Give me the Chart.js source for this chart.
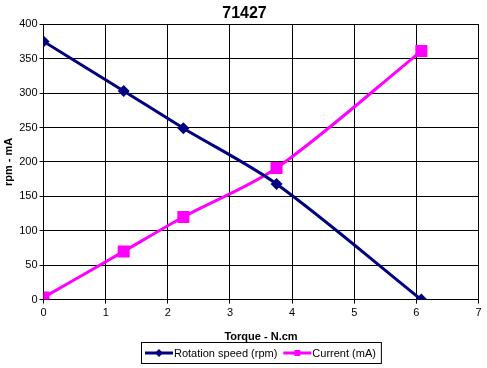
<!DOCTYPE html>
<html>
<head>
<meta charset="utf-8">
<script src="https://cdn.jsdelivr.net/npm/chart.js@4/dist/chart.umd.min.js"></script>
<style>
  html, body { margin: 0; padding: 0; background: #fff; }
  #wrap { width: 487px; height: 368px; }
</style>
</head>
<body>
<div id="wrap"><canvas id="chart"></canvas></div>
<script>
// torque values (N.cm)
const torque = [0, 1.29, 2.25, 3.75, 6.08];
const speedRpm = [375, 303, 249, 168, 0];
const currentMa = [3, 70, 120, 191, 361];
const xTicks = [0, 1, 2, 3, 4, 5, 6, 7];
const yTicks = [0, 50, 100, 150, 200, 250, 300, 350, 400];

const navy = "#000080";
const pink = "#FF00FF";
const font = "'Liberation Sans', Arial, sans-serif";

// excel style legend: line with marker, framed box under the axis title
const boxLegend = {
  id: "boxLegend",
  afterDraw(chart) {
    const ctx = chart.ctx;
    const area = chart.chartArea;
    ctx.save();
    ctx.font = "11px " + font;
    const items = chart.data.datasets.map((ds, i) => ({
      text: ds.label,
      color: ds.borderColor,
      marker: i === 0 ? "diamond" : "square",
      w: ctx.measureText(ds.label).width
    }));
    const iconW = 28;
    let total = 4;
    items.forEach(it => { total += iconW + 1 + it.w + 6; });
    const boxH = 22;
    const left = Math.round((area.left + area.right) / 2 - total / 2);
    const top = chart.height - boxH - 4;
    ctx.fillStyle = "#fff";
    ctx.fillRect(left, top, total, boxH);
    ctx.strokeStyle = "#000";
    ctx.lineWidth = 1;
    ctx.strokeRect(left + 0.5, top + 0.5, total - 1, boxH - 1);
    let x = left + 4;
    const cy = top + boxH / 2;
    items.forEach(it => {
      ctx.strokeStyle = it.color;
      ctx.fillStyle = it.color;
      ctx.lineWidth = 3;
      ctx.beginPath();
      ctx.moveTo(x, cy);
      ctx.lineTo(x + iconW, cy);
      ctx.stroke();
      const mx = x + iconW / 2;
      if (it.marker === "diamond") {
        ctx.beginPath();
        ctx.moveTo(mx, cy - 4);
        ctx.lineTo(mx + 4, cy);
        ctx.lineTo(mx, cy + 4);
        ctx.lineTo(mx - 4, cy);
        ctx.closePath();
        ctx.fill();
      } else {
        ctx.fillRect(mx - 3, cy - 3, 6, 6);
      }
      x += iconW + 1;
      ctx.fillStyle = "#000";
      ctx.textBaseline = "middle";
      ctx.fillText(it.text, x, cy + 1);
      x += it.w + 6;
    });
    ctx.restore();
  }
};

const toPoints = ys => ys.map((y, i) => ({ x: torque[i], y: y }));

new Chart(document.getElementById("chart"), {
  type: "line",
  data: {
    datasets: [
      {
        label: "Rotation speed (rpm)",
        data: toPoints(speedRpm),
        borderColor: navy,
        backgroundColor: navy,
        borderWidth: 3,
        pointStyle: "rectRot",
        pointRadius: 6,
        pointBorderWidth: 0,
        pointHoverRadius: 6,
        tension: 0.3
      },
      {
        label: "Current (mA)",
        data: toPoints(currentMa),
        borderColor: pink,
        backgroundColor: pink,
        borderWidth: 3,
        pointStyle: "rect",
        pointRadius: 8.5,
        pointBorderWidth: 0,
        pointHoverRadius: 8.5,
        tension: 0.3
      }
    ]
  },
  options: {
    responsive: true,
    maintainAspectRatio: false,
    animation: false,
    layout: { padding: { left: 2, right: 0, top: 0, bottom: 24 } },
    plugins: {
      title: {
        display: true,
        text: "71427",
        color: "#000",
        font: { family: font, size: 16, weight: "bold" },
        padding: { top: 4, bottom: 1 }
      },
      legend: { display: false },
      tooltip: { enabled: false }
    },
    scales: {
      x: {
        type: "linear",
        min: 0,
        max: 7,
        afterBuildTicks(axis) { axis.ticks = xTicks.map(v => ({ value: v })); },
        grid: { color: "#000", drawTicks: true, tickLength: 4 },
        border: { color: "#000" },
        ticks: { color: "#000", font: { family: font, size: 11 }, padding: 3 },
        title: {
          display: true,
          text: "Torque - N.cm",
          color: "#000",
          font: { family: font, size: 11, weight: "bold" },
          padding: { top: 8, bottom: 0 }
        }
      },
      y: {
        min: 0,
        max: 400,
        afterBuildTicks(axis) { axis.ticks = yTicks.map(v => ({ value: v })); },
        grid: { color: "#000", drawTicks: true, tickLength: 4 },
        border: { color: "#000" },
        ticks: { color: "#000", font: { family: font, size: 11 }, padding: 2 },
        title: {
          display: true,
          text: "rpm - mA",
          color: "#000",
          font: { family: font, size: 11, weight: "bold" },
          padding: { top: 0, bottom: 2 }
        }
      }
    }
  },
  plugins: [boxLegend]
});
</script>
</body>
</html>
